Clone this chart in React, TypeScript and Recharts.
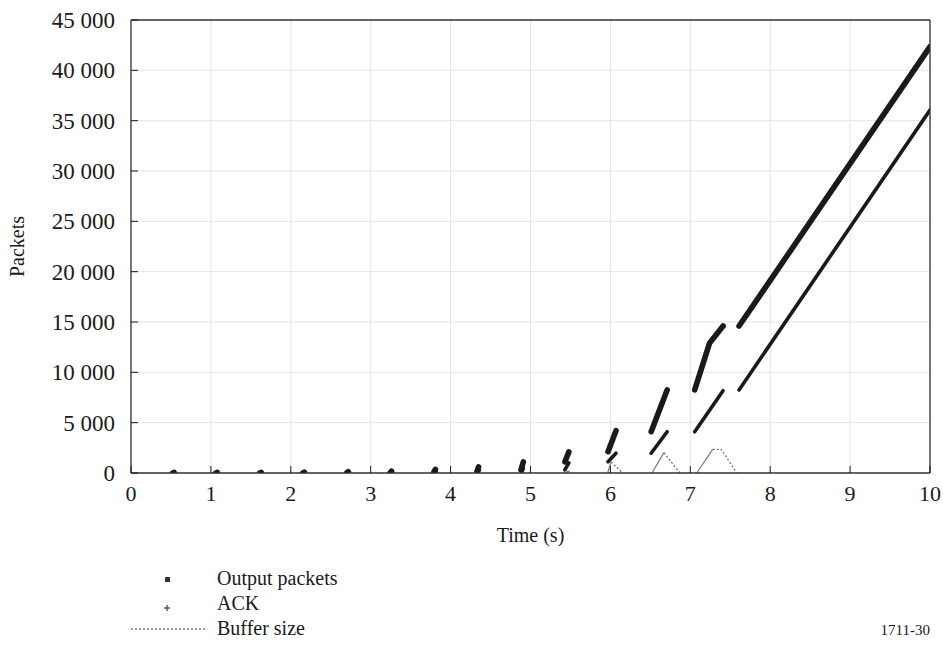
import { ComposedChart, Line, XAxis, YAxis, CartesianGrid } from 'recharts';

const SERIF = '"Liberation Serif", "DejaVu Serif", serif';
const INK = '#1a1a1a';
const GRID = '#e4e4e4';
const BUFFER = '#7a7a7a';

const xTicks = [0, 1, 2, 3, 4, 5, 6, 7, 8, 9, 10];
const yTicks = [0, 5000, 10000, 15000, 20000, 25000, 30000, 35000, 40000, 45000];

// Output packets: each burst is [time (s), packets] pairs
const outputSegments: number[][][] = [
  [[0.52, 0], [0.54, 60]],
  [[1.06, 0], [1.08, 60]],
  [[1.61, 0], [1.63, 70]],
  [[2.15, 0], [2.17, 90]],
  [[2.7, 0], [2.72, 130]],
  [[3.24, 0], [3.26, 180]],
  [[3.79, 100], [3.81, 350]],
  [[4.33, 150], [4.35, 600]],
  [[4.88, 300], [4.91, 1100]],
  [[5.43, 1100], [5.48, 2100]],
  [[5.97, 2120], [6.07, 4200]],
  [[6.51, 4100], [6.71, 8250]],
  [[7.055, 8250], [7.24, 12880], [7.41, 14600]],
  [[7.61, 14600], [10.0, 42350]],
];

// ACK
const ackSegments: number[][][] = [
  [[3.8, 0], [3.82, 120]],
  [[4.34, 50], [4.36, 280]],
  [[4.89, 100], [4.91, 450]],
  [[5.43, 300], [5.48, 1000]],
  [[5.97, 1120], [6.07, 1960]],
  [[6.51, 1960], [6.71, 4100]],
  [[7.055, 4100], [7.41, 8180]],
  [[7.61, 8250], [10.0, 36060]],
];

// Buffer size: rising part drawn solid, draining part dotted
const bufferRise: number[][][] = [
  [[5.44, 0], [5.47, 200]],
  [[5.965, 0], [6.01, 1100]],
  [[6.52, 0], [6.67, 2020]],
  [[7.08, 0], [7.28, 2350]],
];
const bufferFall: number[][][] = [
  [[5.47, 200], [5.51, 0]],
  [[6.01, 1100], [6.15, 0]],
  [[6.67, 2020], [6.87, 0]],
  [[7.28, 2350], [7.39, 2350], [7.58, 0]],
];

type Pt = { t: number; v: number | null };

function toSeries(segments: number[][][]): Pt[] {
  const out: Pt[] = [];
  segments.forEach((seg, i) => {
    if (i > 0) out.push({ t: seg[0][0], v: null });
    seg.forEach(([t, v]) => out.push({ t, v }));
  });
  return out;
}

const outputData = toSeries(outputSegments);
const ackData = toSeries(ackSegments);
const riseData = toSeries(bufferRise);
const fallData = toSeries(bufferFall);

function fmt(v: number): string {
  return String(v).replace(/\B(?=(\d{3})+(?!\d))/g, ' ');
}

const BottomTick = (props: any) => {
  const { x, y, payload } = props;
  return (
    <g>
      <line x1={x} x2={x} y1={y} y2={y - 7} stroke={INK} strokeWidth={1} />
      <text x={x} y={y + 28} textAnchor="middle" fontSize={22} fontFamily={SERIF} fill={INK}>
        {payload.value}
      </text>
    </g>
  );
};

const TopTick = (props: any) => {
  const { x, y } = props;
  return <line x1={x} x2={x} y1={y} y2={y + 7} stroke={INK} strokeWidth={1} />;
};

const LeftTick = (props: any) => {
  const { x, y, payload } = props;
  return (
    <g>
      <line x1={x} x2={x + 7} y1={y} y2={y} stroke={INK} strokeWidth={1} />
      <text x={x - 16} y={y + 8} textAnchor="end" fontSize={23} fontFamily={SERIF} fill={INK}>
        {fmt(payload.value)}
      </text>
    </g>
  );
};

const RightTick = (props: any) => {
  const { x, y } = props;
  return <line x1={x} x2={x - 7} y1={y} y2={y} stroke={INK} strokeWidth={1} />;
};

const axisLine = { stroke: '#333', strokeWidth: 1.3 };

export default function App() {
  return (
    <div
      style={{
        position: 'absolute',
        left: 0,
        top: 0,
        width: 943,
        height: 648,
        background: '#fff',
        fontFamily: SERIF,
        color: INK,
      }}
    >
      <ComposedChart width={943} height={560} margin={{ top: 10, right: 0, bottom: 0, left: 0 }}>
        <CartesianGrid stroke={GRID} strokeWidth={1} />
        <XAxis
          dataKey="t"
          type="number"
          domain={[0, 10]}
          ticks={xTicks}
          allowDataOverflow
          height={87}
          tickSize={0}
          tickMargin={0}
          tickLine={false}
          axisLine={axisLine}
          tick={<BottomTick />}
          interval={0}
          label={{
            content: (p: any) => (
              <text
                x={p.viewBox.x + p.viewBox.width / 2}
                y={542}
                textAnchor="middle"
                fontSize={20}
                fontFamily={SERIF}
                fill={INK}
              >
                Time (s)
              </text>
            ),
          }}
        />
        <XAxis
          xAxisId="top"
          orientation="top"
          dataKey="t"
          type="number"
          domain={[0, 10]}
          ticks={xTicks}
          height={10}
          tickSize={0}
          tickMargin={0}
          tickLine={false}
          axisLine={axisLine}
          tick={<TopTick />}
          interval={0}
        />
        <YAxis
          type="number"
          domain={[0, 45000]}
          ticks={yTicks}
          allowDataOverflow
          width={131}
          tickSize={0}
          tickMargin={0}
          tickLine={false}
          axisLine={axisLine}
          tick={<LeftTick />}
          interval={0}
          label={{
            content: (p: any) => (
              <text
                x={24}
                y={p.viewBox.y + p.viewBox.height / 2}
                textAnchor="middle"
                fontSize={20}
                fontFamily={SERIF}
                fill={INK}
                transform={`rotate(-90 24 ${p.viewBox.y + p.viewBox.height / 2})`}
              >
                Packets
              </text>
            ),
          }}
        />
        <YAxis
          yAxisId="right"
          orientation="right"
          type="number"
          domain={[0, 45000]}
          ticks={yTicks}
          width={13}
          tickSize={0}
          tickMargin={0}
          tickLine={false}
          axisLine={axisLine}
          tick={<RightTick />}
          interval={0}
        />
        <Line
          data={riseData}
          dataKey="v"
          type="linear"
          stroke={BUFFER}
          strokeWidth={1.2}
          dot={false}
          activeDot={false}
          isAnimationActive={false}
        />
        <Line
          data={fallData}
          dataKey="v"
          type="linear"
          stroke={BUFFER}
          strokeWidth={1.4}
          strokeDasharray="2 2"
          dot={false}
          activeDot={false}
          isAnimationActive={false}
        />
        <Line
          data={ackData}
          dataKey="v"
          type="linear"
          stroke={INK}
          strokeWidth={3.6}
          strokeLinecap="round"
          dot={false}
          activeDot={false}
          isAnimationActive={false}
        />
        <Line
          data={outputData}
          dataKey="v"
          type="linear"
          stroke={INK}
          strokeWidth={5.6}
          strokeLinecap="round"
          strokeLinejoin="round"
          dot={false}
          activeDot={false}
          isAnimationActive={false}
        />
      </ComposedChart>

      {/* legend */}
      <div style={{ position: 'absolute', left: 0, top: 566, width: 943, fontSize: 20, lineHeight: '25px' }}>
        <div style={{ position: 'absolute', left: 165, top: 11, width: 5, height: 5, background: '#333' }} />
        <div style={{ position: 'absolute', left: 217, top: 0 }}>Output packets</div>
        <svg style={{ position: 'absolute', left: 162, top: 37 }} width={10} height={10}>
          <line x1={5} x2={5} y1={2} y2={8} stroke="#555" strokeWidth={1.4} />
          <line x1={2} x2={8} y1={5} y2={5} stroke="#555" strokeWidth={1.4} />
        </svg>
        <div style={{ position: 'absolute', left: 217, top: 25 }}>ACK</div>
        <svg style={{ position: 'absolute', left: 130, top: 60 }} width={76} height={6}>
          <line x1={1} x2={75} y1={3} y2={3} stroke={BUFFER} strokeWidth={1.4} strokeDasharray="2 2" />
        </svg>
        <div style={{ position: 'absolute', left: 217, top: 50 }}>Buffer size</div>
        <div style={{ position: 'absolute', right: 13, top: 52, fontSize: 15 }}>1711-30</div>
      </div>
    </div>
  );
}
